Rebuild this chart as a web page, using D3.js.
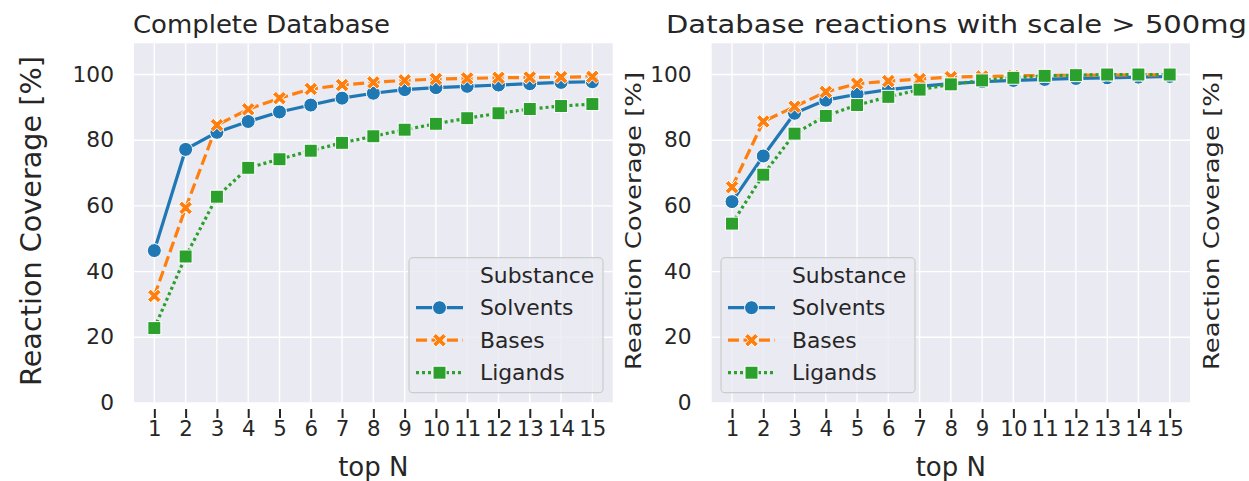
<!DOCTYPE html>
<html>
<head>
<meta charset="utf-8">
<script src="https://d3js.org/d3.v7.min.js"></script>
<style>
  body { margin: 0; background: #fff; }
  text { font-family: "DejaVu Sans", sans-serif; fill: #262626; }
</style>
</head>
<body>
<div id="vis"></div>
<script>

// values
var topN = [1, 2, 3, 4, 5, 6, 7, 8, 9, 10, 11, 12, 13, 14, 15];
var yTicks = [0, 20, 40, 60, 80, 100];
var seriesNames = ["Solvents", "Bases", "Ligands"];

var completeSolvents = [46.4, 77.2, 82.4, 85.7, 88.6, 90.7, 92.8, 94.3, 95.4, 96.0, 96.4, 96.8, 97.2, 97.6, 97.8];
var completeBases    = [32.6, 59.4, 84.6, 89.4, 92.8, 95.6, 96.8, 97.6, 98.2, 98.6, 98.8, 99.0, 99.1, 99.2, 99.3];
var completeLigands  = [22.8, 44.6, 62.8, 71.6, 74.2, 76.8, 79.2, 81.2, 83.2, 85.0, 86.7, 88.2, 89.5, 90.4, 91.0];

var scaleSolvents = [61.3, 75.2, 88.2, 92.2, 94.0, 95.4, 96.4, 97.2, 97.8, 98.2, 98.5, 98.8, 99.0, 99.2, 99.4];
var scaleBases    = [65.7, 85.7, 90.2, 94.7, 97.2, 98.0, 98.6, 99.2, 99.4, 99.6, 99.7, 99.8, 99.8, 99.9, 99.9];
var scaleLigands  = [54.6, 69.5, 82.0, 87.4, 90.7, 93.2, 95.4, 97.0, 98.2, 99.0, 99.6, 99.8, 100, 100, 100];

var W = 1249, H = 481;
var svg = d3.select("#vis").append("svg")
  .attr("width", W)
  .attr("height", H);

var colors = {Solvents: "#1f77b4", Bases: "#ff7f0e", Ligands: "#2ca02c"};
var dashes = {Solvents: null, Bases: "11,4.5", Ligands: "3,3"};
var markers = {Solvents: "circle", Bases: "x", Ligands: "square"};

// stretch text along its reading direction (reference glyphs are a bit wide)
function stretch(sel, f) {
  sel.each(function() {
    var w = this.getComputedTextLength();
    d3.select(this).attr("textLength", w * f).attr("lengthAdjust", "spacingAndGlyphs");
  });
}

// filled "X" marker like matplotlib
function xPath(L) {
  var t = 0.3;
  var pts = [[-t,-1],[t,-1],[t,-t],[1,-t],[1,t],[t,t],[t,1],[-t,1],[-t,t],[-1,t],[-1,-t],[-t,-t]];
  var c = Math.cos(Math.PI/4), s = Math.sin(Math.PI/4);
  return "M" + pts.map(function(p){
    var x = p[0]*L, y = p[1]*L;
    return (x*c - y*s).toFixed(2) + "," + (x*s + y*c).toFixed(2);
  }).join("L") + "Z";
}

function drawMarker(g, type, x, y, color) {
  if (type == "circle") {
    g.append("circle").attr("cx", x).attr("cy", y).attr("r", 7)
      .attr("fill", color).attr("stroke", "#fff").attr("stroke-width", 1);
  } else if (type == "square") {
    g.append("rect").attr("x", x-6.5).attr("y", y-6.5).attr("width", 13).attr("height", 13)
      .attr("fill", color).attr("stroke", "#fff").attr("stroke-width", 1);
  } else {
    g.append("path").attr("d", xPath(7.4)).attr("transform", "translate(" + x + "," + y + ")")
      .attr("fill", color).attr("stroke", "#fff").attr("stroke-width", 1);
  }
}

function drawPanel(p) {
  var x = d3.scaleLinear().domain([0.35, 15.65]).range([p.left, p.right]);
  var y = d3.scaleLinear().domain([0, 109.5]).range([403, 43.3]);
  var g = svg.append("g");

  g.append("rect")
    .attr("x", p.left).attr("y", y(109.5))
    .attr("width", p.right - p.left).attr("height", y(0) - y(109.5))
    .attr("fill", "#eaeaf2");

  // grid
  g.selectAll(".vg").data(topN).enter().append("line")
    .attr("x1", function(d){return x(d);}).attr("x2", function(d){return x(d);})
    .attr("y1", y(0)).attr("y2", y(109.5))
    .attr("stroke", "#fff").attr("stroke-width", 1.4);
  g.selectAll(".hg").data(yTicks).enter().append("line")
    .attr("y1", function(d){return y(d);}).attr("y2", function(d){return y(d);})
    .attr("x1", p.left).attr("x2", p.right)
    .attr("stroke", "#fff").attr("stroke-width", 1.4);

  // x axis (ticks sit below the plot)
  var xAxis = g.append("g").attr("transform", "translate(0," + (y(0) + 6) + ")")
    .call(d3.axisBottom(x).tickValues(topN).tickSize(9).tickPadding(3).tickFormat(d3.format("d")));
  xAxis.select(".domain").remove();
  xAxis.selectAll(".tick line").attr("stroke", "#262626").attr("stroke-width", 2);
  xAxis.selectAll("text").attr("font-size", 20.5).attr("font-family", "DejaVu Sans").attr("fill", "#262626")
    .call(stretch, 1.04);

  // y axis
  var yAxis = g.append("g").attr("transform", "translate(" + (p.left - 12) + ",0)")
    .call(d3.axisLeft(y).tickValues(yTicks).tickSize(0).tickPadding(8));
  yAxis.select(".domain").remove();
  yAxis.selectAll("text").attr("font-size", 20.5).attr("font-family", "DejaVu Sans").attr("fill", "#262626")
    .call(stretch, 1.06);

  // lines + markers
  var line = d3.line().x(function(d){return x(d[0]);}).y(function(d){return y(d[1]);});
  seriesNames.forEach(function(name) {
    var vals = p.data[name];
    var pts = topN.map(function(n, i){ return [n, vals[i]]; });
    g.append("path").attr("d", line(pts))
      .attr("fill", "none").attr("stroke", colors[name]).attr("stroke-width", 3.2)
      .attr("stroke-dasharray", dashes[name]);
  });
  seriesNames.forEach(function(name) {
    var vals = p.data[name];
    topN.forEach(function(n, i){ drawMarker(g, markers[name], x(n), y(vals[i]), colors[name]); });
  });

  // legend
  var lx = p.legendX, ly = 257.7;
  var lg = g.append("g");
  lg.append("rect").attr("x", lx).attr("y", ly).attr("width", 194).attr("height", 135).attr("rx", 4)
    .attr("fill", "#eaeaf2").attr("fill-opacity", 0.8).attr("stroke", "#cccccc").attr("stroke-width", 1.2);
  lg.append("text").attr("x", lx + 71).attr("y", ly + 25.5).attr("font-size", 21).text("Substance")
    .call(stretch, 1.04);
  seriesNames.forEach(function(name, i) {
    var cy = ly + 50 + i * 32.5;
    lg.append("line").attr("x1", lx + 7).attr("x2", lx + 54).attr("y1", cy).attr("y2", cy)
      .attr("stroke", colors[name]).attr("stroke-width", 3.2).attr("stroke-dasharray", dashes[name]);
    drawMarker(lg, markers[name], lx + 30.5, cy, colors[name]);
    lg.append("text").attr("x", lx + 71).attr("y", cy + 7.5).attr("font-size", 21).text(name)
      .call(stretch, 1.04);
  });

  // labels
  g.append("text").attr("x", (p.left + p.right) / 2).attr("y", 476)
    .attr("text-anchor", "middle").attr("font-size", 26).text("top N");
  var t = g.append("text").attr("x", p.titleX).attr("y", 33).attr("font-size", 25.5).text(p.title);
  if (p.titleLen) t.attr("textLength", p.titleLen).attr("lengthAdjust", "spacingAndGlyphs");
}

drawPanel({
  left: 134, right: 612.7, legendX: 409, titleX: 133, titleLen: 257,
  title: "Complete Database",
  data: {Solvents: completeSolvents, Bases: completeBases, Ligands: completeLigands}
});
drawPanel({
  left: 711.7, right: 1190, legendX: 721, titleX: 666, titleLen: 581,
  title: "Database reactions with scale > 500mg",
  data: {Solvents: scaleSolvents, Bases: scaleBases, Ligands: scaleLigands}
});

// y labels
function yLabel(cx, size, len) {
  svg.append("text")
    .attr("transform", "translate(" + cx + ",221) rotate(-90)")
    .attr("text-anchor", "middle").attr("dominant-baseline", "central")
    .attr("font-size", size).text("Reaction Coverage [%]")
    .attr("textLength", len).attr("lengthAdjust", "spacingAndGlyphs");
}
yLabel(31, 27.5, 330);
yLabel(634, 20.5, 298);
yLabel(1212, 20.5, 298);

</script>
</body>
</html>
